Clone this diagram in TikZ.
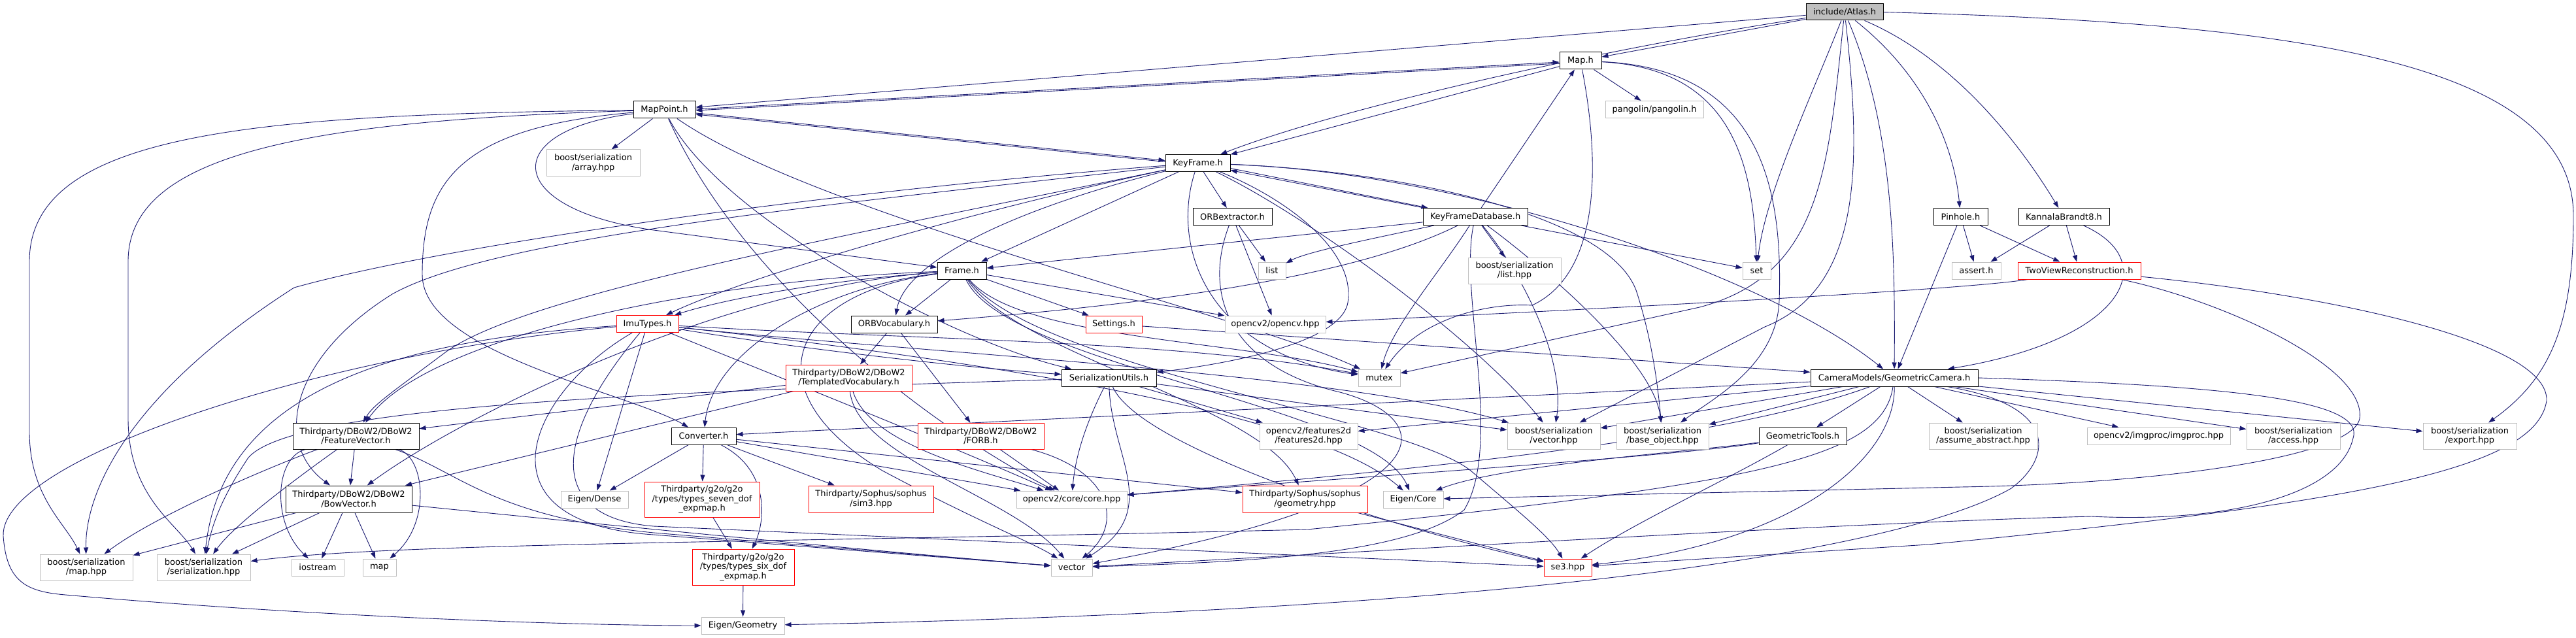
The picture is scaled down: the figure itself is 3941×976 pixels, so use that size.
\documentclass[tikz,border=0pt]{standalone}
\usepackage{fontspec}
\setmainfont{DejaVu Sans}
\usetikzlibrary{arrows.meta}
\definecolor{navy}{RGB}{25,25,112}
\definecolor{gborder}{RGB}{191,191,191}
\definecolor{gfill}{RGB}{191,191,191}
\pgfdeclarelayer{bg}
\pgfsetlayers{bg,main}
\newcommand{\nf}{\fontsize{13}{14.5}\selectfont}
\tikzset{
  basenode/.style={draw, line width=1pt, inner sep=0pt, align=center, font=\nf, fill=white},
  docnode/.style={basenode, draw=black},
  extnode/.style={basenode, draw=gborder},
  trnode/.style={basenode, draw=red},
  rootnode/.style={basenode, draw=black, fill=gfill},
  sz/.style 2 args={minimum width=#1, minimum height=#2},
  lnk/.style={draw=navy, line width=0.9pt, -{Triangle[length=10pt,width=7pt]}},
}
\begin{document}
\begin{tikzpicture}[x=1pt,y=-1pt]
\useasboundingbox (0,0) rectangle (3941,976);
% nodes
\node[rootnode, sz={118}{25}] (atlas) at (2822,18.5) {include/Atlas.h};
\node[docnode, sz={64}{26}] (map) at (2418,93) {Map.h};
\node[docnode, sz={95}{26}] (mappoint) at (1016.5,168) {MapPoint.h};
\node[extnode, sz={143}{41}] (array) at (907.5,249.5) {boost/serialization\\/array.hpp};
\node[docnode, sz={99}{26}] (keyframe) at (1832.5,249.5) {KeyFrame.h};
\node[extnode, sz={150}{26}] (pangolin) at (2531,167.5) {pangolin/pangolin.h};
\node[docnode, sz={160}{26}] (kfdb) at (2257,331.5) {KeyFrameDatabase.h};
\node[docnode, sz={121}{26}] (orbext) at (1885.5,331.5) {ORBextractor.h};
\node[docnode, sz={83}{26}] (pinhole) at (2999.5,331.5) {Pinhole.h};
\node[docnode, sz={139}{26}] (kb8) at (3157.5,331.5) {KannalaBrandt8.h};
\node[docnode, sz={75}{26}] (frame) at (1471.5,414) {Frame.h};
\node[extnode, sz={42}{26}] (list) at (1946,414) {list};
\node[extnode, sz={142}{40}] (listhpp) at (2317,414) {boost/serialization\\/list.hpp};
\node[extnode, sz={43}{26}] (set) at (2687.5,414) {set};
\node[extnode, sz={75}{26}] (assert) at (3023.5,414) {assert.h};
\node[trnode, sz={188}{26}] (twoview) at (3181,414) {TwoViewReconstruction.h};
\node[trnode, sz={95}{26}] (imu) at (990.5,495.5) {ImuTypes.h};
\node[docnode, sz={132}{26}] (orbvoc) at (1368,496) {ORBVocabulary.h};
\node[trnode, sz={86}{26}] (settings) at (1704,496) {Settings.h};
\node[extnode, sz={154}{26}] (opencv) at (1951,496) {opencv2/opencv.hpp};
\node[trnode, sz={193}{40}] (templ) at (1298.5,578) {Thirdparty/DBoW2/DBoW2\\/TemplatedVocabulary.h};
\node[docnode, sz={145}{26}] (serutils) at (1696.5,578) {SerializationUtils.h};
\node[extnode, sz={64}{26}] (mutex) at (2110,578) {mutex};
\node[docnode, sz={256}{26}] (geocam) at (2898,578) {CameraModels/GeometricCamera.h};
\node[docnode, sz={193}{40}] (featvec) at (544.5,667) {Thirdparty/DBoW2/DBoW2\\/FeatureVector.h};
\node[docnode, sz={99}{26}] (converter) at (1076.5,667) {Converter.h};
\node[trnode, sz={193}{40}] (forb) at (1500.5,667) {Thirdparty/DBoW2/DBoW2\\/FORB.h};
\node[extnode, sz={150}{40}] (features2d) at (2002,667) {opencv2/features2d\\/features2d.hpp};
\node[extnode, sz={142}{40}] (vechpp) at (2377,667) {boost/serialization\\/vector.hpp};
\node[extnode, sz={141}{40}] (baseobj) at (2543.5,667) {boost/serialization\\/base\_object.hpp};
\node[docnode, sz={134}{26}] (geotools) at (2758,667) {GeometricTools.h};
\node[extnode, sz={166}{40}] (assume) at (3034,667) {boost/serialization\\/assume\_abstract.hpp};
\node[extnode, sz={219}{26}] (imgproc) at (3302.5,667) {opencv2/imgproc/imgproc.hpp};
\node[extnode, sz={143}{40}] (access) at (3508.5,667) {boost/serialization\\/access.hpp};
\node[extnode, sz={143}{40}] (export) at (3778.5,667) {boost/serialization\\/export.hpp};
\node[docnode, sz={193}{41}] (bowvec) at (533.5,763.5) {Thirdparty/DBoW2/DBoW2\\/BowVector.h};
\node[extnode, sz={103}{26}] (eigendense) at (909.5,764) {Eigen/Dense};
\node[trnode, sz={176}{54}] (sevendof) at (1074,764) {Thirdparty/g2o/g2o\\/types/types\_seven\_dof\\\_expmap.h};
\node[trnode, sz={191}{41}] (sim3) at (1332.5,763.5) {Thirdparty/Sophus/sophus\\/sim3.hpp};
\node[extnode, sz={169}{26}] (corehpp) at (1639.5,764) {opencv2/core/core.hpp};
\node[trnode, sz={191}{41}] (geometry) at (1996.5,763.5) {Thirdparty/Sophus/sophus\\/geometry.hpp};
\node[extnode, sz={92}{26}] (eigencore) at (2162,764) {Eigen/Core};
\node[extnode, sz={142}{40}] (maphpp) at (132,868) {boost/serialization\\/map.hpp};
\node[extnode, sz={143}{40}] (serhpp) at (311.5,868) {boost/serialization\\/serialization.hpp};
\node[extnode, sz={80}{26}] (iostream) at (486,868) {iostream};
\node[extnode, sz={51}{26}] (mapn) at (580.5,868) {map};
\node[trnode, sz={156}{55}] (sixdof) at (1137,867.5) {Thirdparty/g2o/g2o\\/types/types\_six\_dof\\\_expmap.h};
\node[extnode, sz={63}{26}] (vector) at (1639.5,868) {vector};
\node[trnode, sz={73}{26}] (se3) at (2398.5,868) {se3.hpp};
\node[extnode, sz={127}{26}] (eigengeo) at (1136.5,957) {Eigen/Geometry};

\begin{pgfonlayer}{bg}
\fill[white] (0,0) rectangle (3941,976);
% Atlas
\draw[lnk] (atlas) -- (mappoint);
\draw[lnk] (atlas) -- (map);
\draw[lnk] (atlas) .. controls (2450,75) and (2050,165) .. (keyframe);
\draw[lnk] (atlas) .. controls (2770,150) and (2700,300) .. (set);
\draw[lnk] (atlas) .. controls (2797,250) and (2790,420) .. (2600,470) -- (mutex);
\draw[lnk] (atlas) .. controls (2848,250) and (2850,440) .. (2700,500) -- (vechpp);
\draw[lnk] (atlas) .. controls (2899,200) and (2899,400) .. (geocam);
\draw[lnk] (atlas) .. controls (2950,120) and (2990,230) .. (pinhole);
\draw[lnk] (atlas) .. controls (2990,90) and (3090,220) .. (kb8);
\draw[lnk] (atlas.east) .. controls (3500,35) and (3937,90) .. (3937,330) .. controls (3937,500) and (3900,580) .. (export);
% Map
\draw[lnk] ([yshift=1pt]mappoint.east) -- ([yshift=-2pt]map.west);
\draw[lnk] ([yshift=-4pt]map.west) -- ([yshift=-1pt]mappoint.east);
\draw[lnk] (map) -- (keyframe);
\draw[lnk] (map) .. controls (2650,105) and (2682,250) .. (set);
\draw[lnk] (map) -- (pangolin);
\draw[lnk] (map) .. controls (2450,260) and (2445,420) .. (2344,467) .. controls (2270,463) and (2170,490) .. (mutex);
\draw[lnk] (map) .. controls (2690,105) and (2728,280) .. (2722,460) .. controls (2718,560) and (2620,610) .. (baseobj);
% MapPoint
\draw[lnk] ([yshift=-5pt]mappoint.east) -- ([yshift=4pt]keyframe.west);
\draw[lnk] ([yshift=2pt]keyframe.west) -- ([yshift=-7pt]mappoint.east);
\draw[lnk] (mappoint) .. controls (760,200) and (770,320) .. (1000,352) -- (frame);
\draw[lnk] (mappoint) .. controls (700,195) and (646,280) .. (646,420) .. controls (646,540) and (960,600) .. (converter);
\draw[lnk] (mappoint) .. controls (1100,330) and (1450,520) .. (serutils);
\draw[lnk] (mappoint) .. controls (1130,420) and (1400,640) .. (corehpp);
\draw[lnk] (mappoint) .. controls (1250,330) and (1900,480) .. (mutex);
\draw[lnk] (mappoint) .. controls (450,185) and (196,240) .. (196,400) -- (196,640) .. controls (196,760) and (270,800) .. (serhpp);
\draw[lnk] (mappoint) .. controls (400,175) and (45,200) .. (45,400) -- (45,660) .. controls (45,760) and (100,800) .. (maphpp);
\draw[lnk] (mappoint) -- (array);
% KeyFrame
\draw[lnk] (keyframe) .. controls (1300,310) and (760,360) .. (600,450) .. controls (440,550) and (420,680) .. (bowvec);
\draw[lnk] (keyframe) .. controls (1300,360) and (800,450) .. (680,540) .. controls (600,600) and (570,620) .. (featvec);
\draw[lnk] (keyframe) .. controls (1500,320) and (1150,420) .. (imu);
\draw[lnk] (keyframe) .. controls (1550,320) and (1385,400) .. (orbvoc);
\draw[lnk] (keyframe) -- (orbext);
\draw[lnk] (keyframe) -- (frame);
\draw[lnk] ([yshift=-8pt]keyframe.east) -- ([xshift=8pt]kfdb.north west);
\draw[lnk] ([xshift=2pt]kfdb.north west) -- ([yshift=-11pt]keyframe.east);
\draw[lnk] (keyframe) .. controls (2250,265) and (2700,420) .. (geocam);
\draw[lnk] (keyframe) .. controls (1960,300) and (2075,380) .. (2062,463) .. controls (2050,530) and (1850,560) .. (serutils);
\draw[lnk] (keyframe) .. controls (2000,330) and (2260,520) .. (vechpp);
\draw[lnk] (keyframe) .. controls (2150,262) and (2470,330) .. (2505,450) .. controls (2530,530) and (2537,600) .. (baseobj);
\draw[lnk] (keyframe) .. controls (1790,380) and (1850,540) .. (mutex);
\draw[lnk] (keyframe) .. controls (1300,290) and (700,370) .. (450,440) .. controls (200,600) and (130,750) .. (maphpp);
% KeyFrameDatabase
\draw[lnk] (kfdb) -- (frame);
\draw[lnk] (kfdb) .. controls (2100,365) and (2000,385) .. (list);
\draw[lnk] (kfdb) .. controls (2120,400) and (1900,455) .. (orbvoc);
\draw[lnk] (kfdb) -- (map);
\draw[lnk] (kfdb) -- (listhpp);
\draw[lnk] (kfdb) -- (set);
\draw[lnk] (kfdb) .. controls (2200,420) and (2130,500) .. (mutex);
\draw[lnk] (kfdb) .. controls (2232,450) and (2300,680) .. (2240,780) .. controls (2150,850) and (1900,860) .. (vector);
\draw[lnk] (kfdb) .. controls (2330,420) and (2395,550) .. (vechpp);
\draw[lnk] (kfdb) .. controls (2350,400) and (2530,550) .. (baseobj);
% Frame
\draw[lnk] (frame) .. controls (1200,450) and (1150,600) .. (1350,720) .. controls (1500,800) and (1580,830) .. (vector);
\draw[lnk] (frame) .. controls (1100,440) and (700,640) .. (bowvec);
\draw[lnk] (frame) .. controls (1050,430) and (650,520) .. (featvec);
\draw[lnk] (frame) .. controls (1550,540) and (1930,620) .. (geometry);
\draw[lnk] (frame) .. controls (1250,430) and (1100,460) .. (imu);
\draw[lnk] (frame) -- (orbvoc);
\draw[lnk] (frame) .. controls (1250,440) and (1090,540) .. (converter);
\draw[lnk] (frame) -- (settings);
\draw[lnk] (frame) .. controls (1560,520) and (1900,520) .. (mutex);
\draw[lnk] (frame) -- (opencv);
\draw[lnk] (frame) .. controls (1540,560) and (2100,620) .. (eigencore);
\draw[lnk] (frame) .. controls (1580,560) and (2150,640) .. (2250,720) .. controls (2320,780) and (2370,820) .. (se3);
% ImuTypes
\draw[lnk] (imu) .. controls (500,540) and (0,700) .. (5,820) .. controls (10,890) and (40,905) .. (100,910) .. controls (500,945) and (900,957) .. (eigengeo);
\draw[lnk] (imu) .. controls (600,520) and (340,600) .. (serhpp);
\draw[lnk] (imu) .. controls (810,600) and (720,800) .. (1000,818) -- (vector);
\draw[lnk] (imu) -- (eigendense);
\draw[lnk] (imu) .. controls (860,650) and (820,790) .. (1000,805) -- (se3);
\draw[lnk] (imu) .. controls (1200,580) and (1450,680) .. (corehpp);
\draw[lnk] (imu) .. controls (1400,540) and (2000,620) .. (eigencore);
\draw[lnk] (imu) .. controls (1400,520) and (1800,520) .. (mutex);
\draw[lnk] (imu) .. controls (1200,530) and (1450,560) .. (serutils);
\draw[lnk] (imu) .. controls (1400,540) and (2050,570) .. (vechpp);
% SerializationUtils
\draw[lnk] (serutils) .. controls (1000,600) and (450,620) .. (380,700) .. controls (340,760) and (325,800) .. (serhpp);
\draw[lnk] (serutils) .. controls (1660,650) and (1645,700) .. (corehpp);
\draw[lnk] (serutils) .. controls (1700,700) and (1780,780) .. (vector);
\draw[lnk] (serutils) -- (features2d);
\draw[lnk] (serutils) -- (vechpp);
\draw[lnk] (serutils) .. controls (1740,680) and (2100,800) .. (se3);
% Converter
\draw[lnk] (converter) -- (eigendense);
\draw[lnk] (converter) -- (sevendof);
\draw[lnk] (converter) .. controls (1180,720) and (1170,800) .. (sixdof);
\draw[lnk] (converter) -- (sim3);
\draw[lnk] (converter) -- (corehpp);
\draw[lnk] (converter) -- (geometry);
% TemplatedVocabulary
\draw[lnk] (templ) -- (featvec);
\draw[lnk] (templ) -- (bowvec);
\draw[lnk] (templ) .. controls (1330,680) and (1500,720) .. (corehpp);
\draw[lnk] (templ) .. controls (1310,700) and (1550,760) .. (vector);
% FORB
\draw[lnk] (forb) -- (corehpp);
\draw[lnk] (forb) .. controls (1700,720) and (1720,800) .. (vector);
% ORBVocabulary
\draw[lnk] (orbvoc) -- (templ);
\draw[lnk] (orbvoc) -- (forb);
% ORBextractor
\draw[lnk] (orbext) -- (list);
\draw[lnk] (orbext) -- (opencv);
\draw[lnk] (orbext) .. controls (1840,450) and (1880,560) .. (2050,600) .. controls (2200,640) and (2230,760) .. (vector);
% Settings
\draw[lnk] (settings) -- (geocam);
% BowVector
\draw[lnk] (bowvec) -- (maphpp);
\draw[lnk] (bowvec) -- (serhpp);
\draw[lnk] (bowvec) -- (iostream);
\draw[lnk] (bowvec) -- (mapn);
\draw[lnk] (bowvec) .. controls (900,800) and (1300,840) .. (vector);
% FeatureVector
\draw[lnk] (featvec) -- (bowvec);
\draw[lnk] (featvec) .. controls (450,700) and (250,780) .. (maphpp);
\draw[lnk] (featvec) .. controls (470,720) and (360,800) .. (serhpp);
\draw[lnk] (featvec) .. controls (420,700) and (415,800) .. (iostream);
\draw[lnk] (featvec) .. controls (650,700) and (660,800) .. (mapn);
\draw[lnk] (featvec) .. controls (700,720) and (750,790) .. (1000,815) -- (vector);
% g2o / Sophus
\draw[lnk] (sevendof) -- (sixdof);
\draw[lnk] (sixdof) -- (eigengeo);
\draw[lnk] (geometry) -- (se3);
% GeometricCamera
\draw[lnk] (geocam) -- (converter);
\draw[lnk] (geocam) -- (features2d);
\draw[lnk] (geocam) -- (vechpp);
\draw[lnk] (geocam) -- (baseobj);
\draw[lnk] (geocam) -- (geotools);
\draw[lnk] (geocam) -- (assume);
\draw[lnk] (geocam) -- (imgproc);
\draw[lnk] (geocam) -- (access);
\draw[lnk] (geocam) -- (export);
\draw[lnk] (geocam) .. controls (2700,650) and (2400,700) .. (corehpp);
\draw[lnk] (geocam) .. controls (2900,700) and (2750,830) .. (se3);
\draw[lnk] (geocam) .. controls (2880,700) and (2700,740) .. (2000,810) .. controls (1200,830) and (600,830) .. (serhpp);
\draw[lnk] (geocam) .. controls (3150,620) and (3140,700) .. (3077,747) .. controls (2950,820) and (2500,930) .. (eigengeo);
\draw[lnk] (geocam.east) .. controls (3400,590) and (3620,610) .. (3600,670) .. controls (3580,760) and (3400,800) .. (3200,790) .. controls (2800,800) and (2000,850) .. (vector);
% GeometricTools
\draw[lnk] (geotools) .. controls (2550,700) and (2000,735) .. (corehpp);
\draw[lnk] (geotools) .. controls (2600,690) and (2300,710) .. (eigencore);
\draw[lnk] (geotools) .. controls (2650,730) and (2500,800) .. (se3);
% Pinhole / KannalaBrandt8
\draw[lnk] (pinhole) -- (assert);
\draw[lnk] (pinhole) -- (twoview);
\draw[lnk] (pinhole) -- (geocam);
\draw[lnk] (kb8) -- (assert);
\draw[lnk] (kb8) -- (twoview);
\draw[lnk] (kb8) .. controls (3310,400) and (3250,520) .. (geocam);
% TwoViewReconstruction
\draw[lnk] (twoview) .. controls (3000,445) and (2300,480) .. (opencv);
\draw[lnk] (twoview) .. controls (3400,460) and (3620,560) .. (3610,640) .. controls (3600,700) and (3300,740) .. (3000,745) -- (eigencore);
\draw[lnk] (twoview) .. controls (3550,450) and (3900,520) .. (3896,613) .. controls (3880,720) and (3600,770) .. (2950,833) -- (se3);
\end{pgfonlayer}
\end{tikzpicture}
\end{document}
